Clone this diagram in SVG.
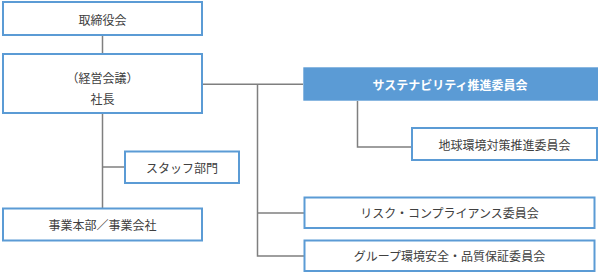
<svg xmlns="http://www.w3.org/2000/svg" width="600" height="277" viewBox="0 0 600 277">
<style>
.box{fill:#fff;stroke:#5b9bd5;stroke-width:2}
.hl{fill:#5b9bd5;stroke:none}
.t{font-family:"Noto Sans CJK JP","Noto Sans",sans-serif;font-size:12px;fill:#404040;text-anchor:middle;dominant-baseline:central}
.tw{font-family:"Noto Sans CJK JP","Noto Sans",sans-serif;font-size:12px;fill:#fff;font-weight:bold;text-anchor:middle;dominant-baseline:central}
.ln{fill:none;stroke:#7f7f7f;stroke-width:1.5}
</style>
<g id="connectors">
<path class="ln" d="M102.5 35V53"/>
<path class="ln" d="M102.5 113V208"/>
<path class="ln" d="M102.5 167H124"/>
<path class="ln" d="M203 84.3H303"/>
<path class="ln" d="M257.5 84.3V256H304"/>
<path class="ln" d="M257.5 213H304"/>
<path class="ln" d="M357.5 101V147H411"/>
</g>
<g id="board"><rect class="box" x="3" y="2" width="199" height="33"/><text class="t" x="102.5" y="19">取締役会</text></g>
<g id="president"><rect class="box" x="3" y="54" width="199" height="59"/><text class="t" x="102.5" y="77">（経営会議）</text><text class="t" x="102.5" y="98">社長</text></g>
<g id="staff"><rect class="box" x="125" y="151.5" width="114" height="31.5"/><text class="t" x="182" y="167">スタッフ部門</text></g>
<g id="business"><rect class="box" x="3" y="208.5" width="199" height="32"/><text class="t" x="102.5" y="224.5">事業本部／事業会社</text></g>
<g id="sustainability"><rect class="hl" x="303.3" y="67.3" width="294.7" height="33.4"/><text class="tw" x="450" y="84">サステナビリティ推進委員会</text></g>
<g id="global-env"><rect class="box" x="412" y="128" width="185" height="32"/><text class="t" x="504.5" y="144">地球環境対策推進委員会</text></g>
<g id="risk"><rect class="box" x="304.5" y="197.5" width="290" height="30.5"/><text class="t" x="449.5" y="212.5">リスク・コンプライアンス委員会</text></g>
<g id="group-env"><rect class="box" x="304.5" y="240.5" width="290" height="30.5"/><text class="t" x="449.5" y="255.5">グループ環境安全・品質保証委員会</text></g>
</svg>
